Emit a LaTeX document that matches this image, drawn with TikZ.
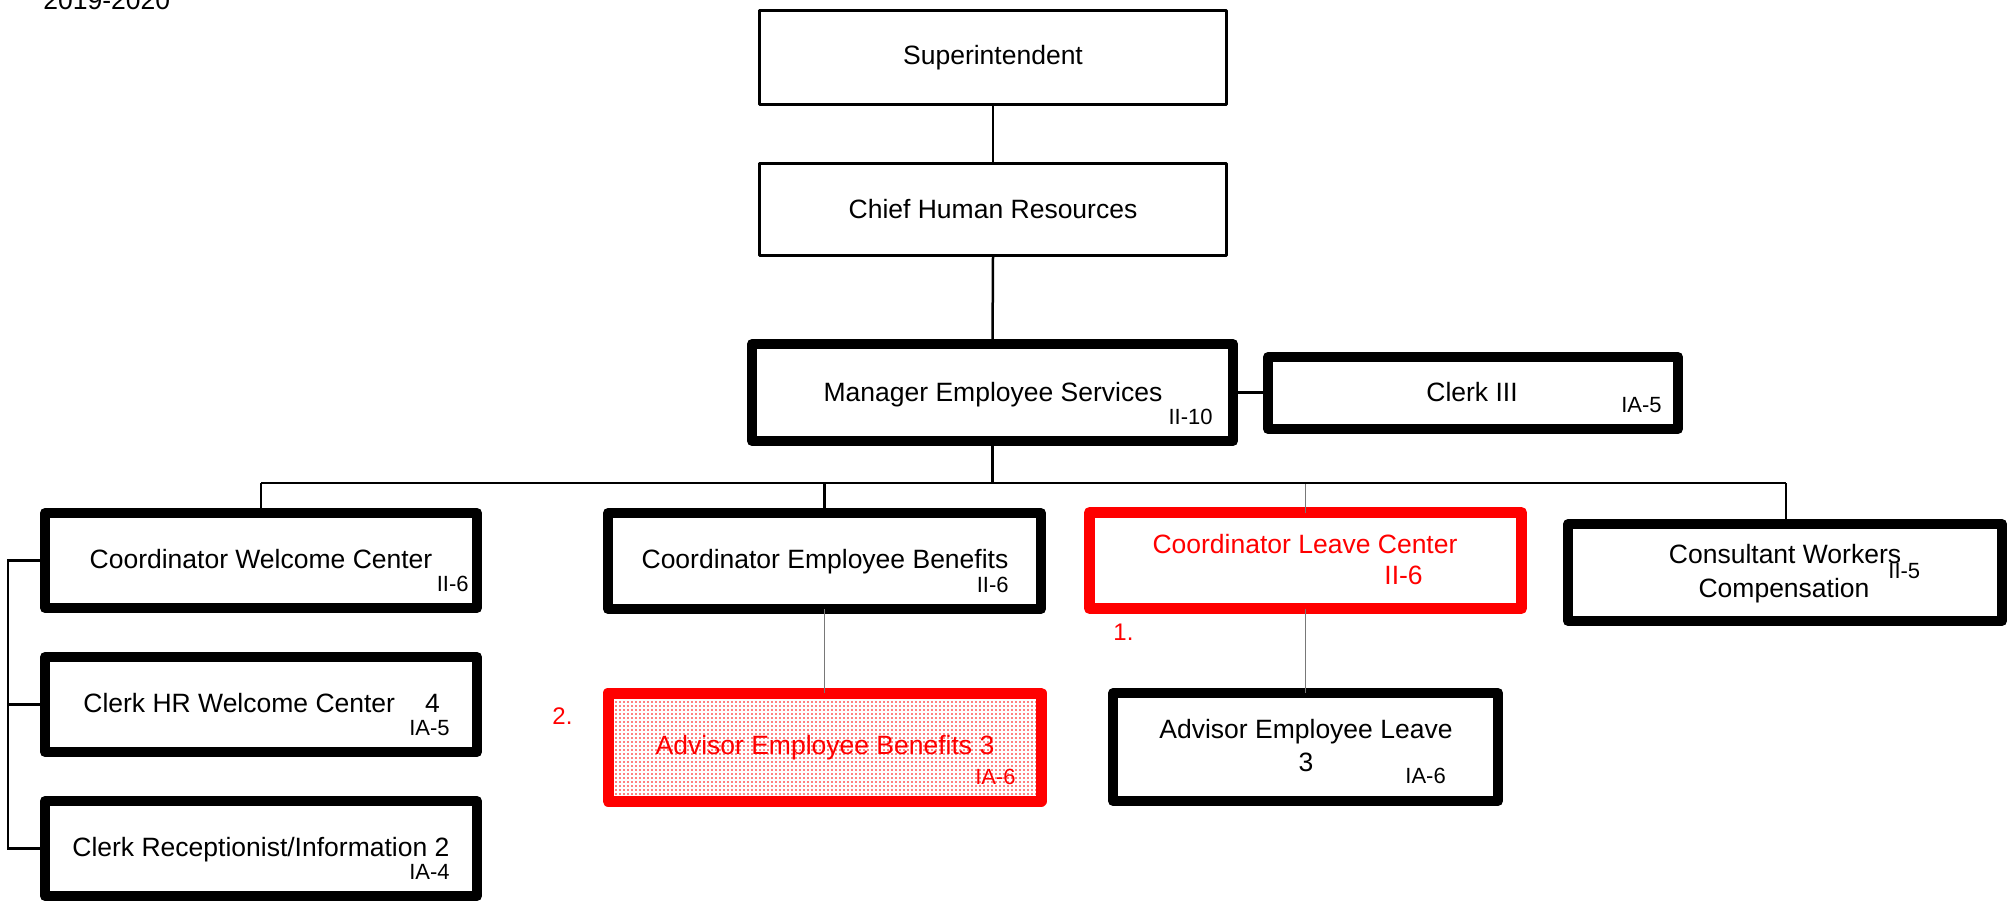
\documentclass[tikz,border=0pt]{standalone}
\usepackage{fontspec}
\setmainfont{Liberation Sans}
\usetikzlibrary{patterns.meta}
\definecolor{linegray}{RGB}{120,120,120}
\tikzset{
  boxbase/.style={draw, rectangle, inner sep=0pt, outer sep=0pt, line join=round},
  thinbox/.style={boxbase, line width=1.5pt},
  thickbox/.style={boxbase, line width=5pt},
  redbox/.style={boxbase, draw=red, line width=5.5pt},
  conn/.style={line width=1.25pt, black},
  grayconn/.style={line width=0.7pt, linegray},
  txt/.style={inner sep=0pt, anchor=base, font=\fontsize{13.25}{16}\selectfont},
  grade/.style={inner sep=0pt, anchor=base east, font=\fontsize{11}{13}\selectfont},
}
\begin{document}
\begin{tikzpicture}[x=0.5pt,y=-0.5pt]
\useasboundingbox (0,0) rectangle (2011,902);
% year
\node[txt, anchor=base west] (year) at (43,9.5) {2019-2020};
% boxes
\node[thinbox, minimum width=233.5pt, minimum height=47pt] (sup) at (993,57.5) {};
\node[thinbox, minimum width=233.5pt, minimum height=46pt] (chf) at (993,209.5) {};
\node[thickbox, minimum width=240.5pt, minimum height=48.5pt] (mgr) at (992.5,392.5) {};
\node[thickbox, minimum width=205pt, minimum height=36pt] (clk) at (1473,393) {};
\node[thickbox, minimum width=216pt, minimum height=47.5pt] (cwc) at (261,560.5) {};
\node[thickbox, minimum width=216pt, minimum height=47.5pt] (chr) at (261,704.5) {};
\node[thickbox, minimum width=216pt, minimum height=47.5pt] (crp) at (261,848.5) {};
\node[thickbox, minimum width=216.5pt, minimum height=48pt] (ceb) at (824.5,561) {};
\node[redbox, minimum width=216.5pt, minimum height=54pt, pattern={Dots[distance=2pt, radius=0.4pt]}, pattern color=red] (aeb) at (824.5,747) {};
\node[redbox, minimum width=216pt, minimum height=48pt] (clc) at (1305.5,560.5) {};
\node[thickbox, minimum width=192.5pt, minimum height=54pt] (ael) at (1305.5,747) {};
\node[thickbox, minimum width=217pt, minimum height=48.5pt] (cwk) at (1785,572.5) {};
% connector points
\coordinate (busL) at (261,483);
\coordinate (busR) at (1786,483);
\coordinate (brk) at (8,560.5);
% gray connectors
\draw[grayconn] (clc.north |- busL) -- (clc.north);
\draw[grayconn] (clc.south) -- (ael.north);
\draw[grayconn] (ceb.south) -- (aeb.north);
% black connectors
\draw[conn] (sup.south) -- (chf.north);
\draw[conn] (chf.south) -- (mgr.north);
\draw[conn] (mgr.east) -- (mgr.east -| clk.west);
\draw[conn] (mgr.south) -- (mgr.south |- busL);
\draw[conn] (busL) -- (busR);
\draw[conn] (busL) -- (cwc.north);
\draw[conn] (ceb.north |- busL) -- (ceb.north);
\draw[conn] (busR) -- (cwk.north -| busR);
\draw[conn] (cwc.west) -- (brk) |- (crp.west);
\draw[conn] (brk |- chr.west) -- (chr.west);
% texts
\node[txt] (tsup) at (993,64) {Superintendent};
\node[txt] (tchf) at (993,218) {Chief Human Resources};
\node[txt] (tmgr) at (993,401) {Manager Employee Services};
\node[grade] (gmgr) at (1213,424) {II-10};
\node[txt] (tclk) at (1472,401) {Clerk III};
\node[grade] (gclk) at (1662,412) {IA-5};
\node[txt] (tcwc) at (261,568) {Coordinator Welcome Center};
\node[grade] (gcwc) at (469,591) {II-6};
\node[txt, anchor=base west] (tchr) at (83,712) {Clerk HR Welcome Center\hspace{15pt}4};
\node[grade] (gchr) at (450,735) {IA-5};
\node[txt, anchor=base west] (tcrp) at (72,856) {Clerk Receptionist/Information 2};
\node[grade] (gcrp) at (450,879) {IA-4};
\node[txt] (tceb) at (825,568) {Coordinator Employee Benefits};
\node[grade] (gceb) at (1009,592) {II-6};
\node[txt, text=red] (taeb) at (825,754) {Advisor Employee Benefits 3};
\node[grade, text=red] (gaeb) at (1016,784) {IA-6};
\node[grade, anchor=base west, text=red, font=\fontsize{12}{14}\selectfont] (n2) at (552,724) {2.};
\node[txt, text=red] (tclc) at (1305,553) {Coordinator Leave Center};
\node[txt, text=red, anchor=base west] (gclc) at (1384,584) {II-6};
\node[grade, anchor=base west, text=red, font=\fontsize{12}{14}\selectfont] (n1) at (1113,640) {1.};
\node[txt] (tael) at (1306,738) {Advisor Employee Leave};
\node[txt] (tael2) at (1306,771) {3};
\node[grade, anchor=base west] (gael) at (1405,783) {IA-6};
\node[txt] (tcwk) at (1785,563) {Consultant Workers};
\node[txt] (tcwk2) at (1784,597) {Compensation};
\node[grade, anchor=base west] (gcwk) at (1888,578) {II-5};
\end{tikzpicture}
\end{document}
